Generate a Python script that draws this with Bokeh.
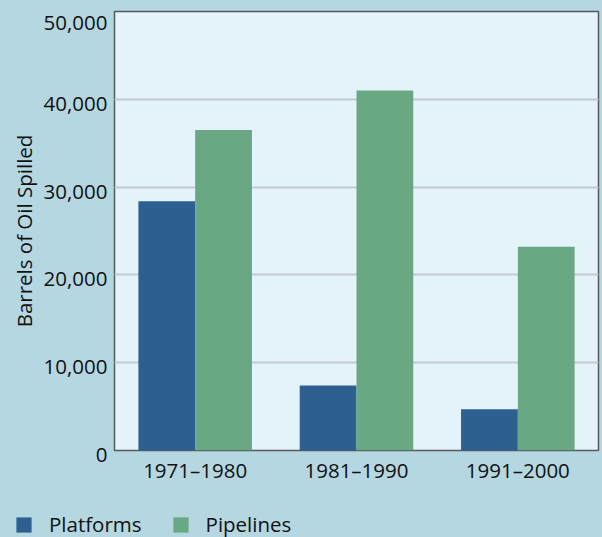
from bokeh.plotting import figure
from bokeh.models import (ColumnDataSource, FixedTicker, Legend, LegendItem, Range1d,
                          FactorRange, LinearAxis, Grid)
from bokeh.layouts import column
from bokeh.transform import dodge
from bokeh.embed import file_html
from bokeh.resources import INLINE

periods = ["1971–1980", "1981–1990", "1991–2000"]
platforms = [28400, 7400, 4700]
pipelines = [36500, 41000, 23200]
y_ticks = [0, 10000, 20000, 30000, 40000, 50000]
y_tick_labels = ["0", "10,000", "20,000", "30,000", "40,000", "50,000"]
series_names = ["Platforms", "Pipelines"]

BG = "#b5d7e2"
PLOT_BG = "#e4f2f9"
BLUE = "#2d6091"
GREEN = "#68a882"
INK = "#111111"
FONT = "Open Sans"
FS = "20.5px"

src = ColumnDataSource(dict(period=periods, platforms=platforms, pipelines=pipelines))

p = figure(width=602, height=500, output_backend="svg", toolbar_location=None,
           x_range=FactorRange(*periods), y_range=Range1d(0, 50000),
           y_axis_location=None,
           min_border_left=114, min_border_right=4, min_border_top=11,
           min_border_bottom=50)
p.background_fill_color = PLOT_BG
p.border_fill_color = BG
p.outline_line_color = "#55595c"
p.outline_line_width = 1.5

r1 = p.vbar(x=dodge("period", -0.176, range=p.x_range), top="platforms", width=0.352,
            source=src, fill_color=BLUE, line_color=None)
r2 = p.vbar(x=dodge("period", 0.176, range=p.x_range), top="pipelines", width=0.352,
            source=src, fill_color=GREEN, line_color=None)

p.x_range.range_padding = 0
p.xgrid.grid_line_color = None

grid = Grid(dimension=1, ticker=FixedTicker(ticks=y_ticks), grid_line_color="#c3cacd",
            grid_line_width=2, level="underlay")
p.add_layout(grid)

yax = LinearAxis(ticker=FixedTicker(ticks=y_ticks))
# the reference's tick labels sit ~3.5px below their gridlines: a leading empty
# line with a tight line height nudges each label down
yax.major_label_overrides = {t: "\n" + s for t, s in zip(y_ticks, y_tick_labels)}
yax.major_label_text_line_height = 0.25
p.add_layout(yax, "left")
yax.axis_label = "Barrels of Oil Spilled"
yax.axis_label_text_font = FONT
yax.axis_label_text_font_size = FS
yax.axis_label_text_font_style = "normal"
yax.axis_label_text_color = INK
yax.axis_label_standoff = 3

for ax in (p.xaxis[0], yax):
    ax.axis_line_color = None
    ax.major_tick_line_color = None
    ax.minor_tick_line_color = None
    ax.major_tick_in = 0
    ax.major_tick_out = 0
    ax.major_label_text_font = FONT
    ax.major_label_text_font_size = FS
    ax.major_label_text_color = INK
yax.major_label_standoff = 7
p.xaxis.major_label_standoff = 5

# legend strip below the chart
lf = figure(width=602, height=37, output_backend="svg", toolbar_location=None,
            x_range=Range1d(0, 1), y_range=Range1d(0, 1),
            x_axis_type=None, y_axis_type=None, min_border=0,
            styles={"margin-left": "-100px"})
lf.background_fill_color = BG
lf.border_fill_color = BG
lf.outline_line_color = None
lf.grid.visible = False
d1 = lf.vbar(x=[-10], top=[-10], width=1, fill_color=BLUE, line_color=None)
d2 = lf.vbar(x=[-10], top=[-10], width=1, fill_color=GREEN, line_color=None)

lg = Legend(items=[LegendItem(label=series_names[0], renderers=[d1]),
                   LegendItem(label=series_names[1], renderers=[d2])],
            location=(0, -1), orientation="horizontal", padding=0, margin=0,
            spacing=29, glyph_width=19, glyph_height=19, label_standoff=16,
            label_text_font=FONT, label_text_font_size=FS, label_text_color=INK,
            border_line_color=None, background_fill_alpha=0)
lf.add_layout(lg, "center")

layout = column(p, lf, spacing=0)
html = file_html(layout, INLINE)
html = html.replace("</head>", "<style>body{margin:0;background:%s;overflow:hidden;}</style></head>" % BG)
open("out.html", "w").write(html)
